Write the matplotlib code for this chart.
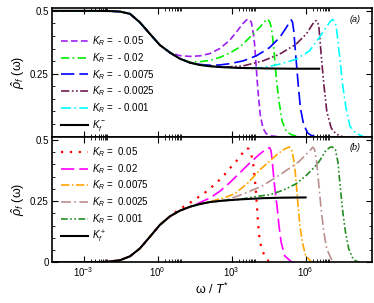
import numpy as np
import matplotlib
matplotlib.use('Agg')
import matplotlib.pyplot as plt
from matplotlib.ticker import FixedLocator, NullFormatter

plt.rcParams['font.family'] = ['Liberation Sans', 'DejaVu Sans']
plt.rcParams['mathtext.fontset'] = 'custom'
plt.rcParams['mathtext.rm'] = 'Liberation Sans'
plt.rcParams['mathtext.it'] = 'Liberation Sans:italic'

# values: log10(omega / T*) and rho_f
# (a) shared part of all curves, before they split
head_a_x = [-4.3, -2.5, -1.9, -1.52, -1.12, -0.72, -0.31, 0.09, 0.5]
head_a_y = [0.5, 0.5, 0.499, 0.497, 0.488, 0.454, 0.408, 0.364, 0.334]

kf_minus_x = [0.9, 1.31, 1.71, 2.11, 2.65, 3.33, 4.5, 5.5, 6.55]
kf_minus_y = [0.310, 0.294, 0.285, 0.280, 0.276, 0.273, 0.271, 0.270, 0.270]

neg_labels = ['- 0.05', '- 0.02', '- 0.0075', '- 0.0025', '- 0.001']
neg_x = [
    [0.9, 1.31, 1.71, 2.11, 2.52, 2.92, 3.19, 3.46, 3.62, 3.70, 3.80, 3.88, 3.93, 4.00, 4.07, 4.16, 4.27, 4.40, 4.6, 4.9],
    [0.9, 1.31, 1.71, 2.11, 2.52, 2.92, 3.33, 3.73, 4.14, 4.34, 4.47, 4.55, 4.61, 4.67, 4.72, 4.81, 4.92, 5.05, 5.22, 5.42, 5.7],
    [0.9, 1.31, 1.71, 2.11, 2.52, 2.92, 3.46, 4.00, 4.54, 4.95, 5.22, 5.35, 5.42, 5.47, 5.52, 5.57, 5.62, 5.70, 5.79, 5.92, 6.09, 6.25, 6.45],
    [0.9, 1.31, 1.71, 2.11, 2.65, 3.0, 3.46, 4.27, 4.95, 5.62, 6.03, 6.29, 6.40, 6.45, 6.50, 6.54, 6.58, 6.63, 6.74, 6.86, 7.04, 7.24, 7.5],
    [0.9, 1.31, 1.71, 2.11, 2.65, 3.33, 4.27, 4.95, 5.62, 6.16, 6.56, 6.83, 7.0, 7.10, 7.18, 7.24, 7.30, 7.37, 7.50, 7.64, 7.80, 8.05, 8.35],
]
neg_y = [
    [0.322, 0.319, 0.321, 0.330, 0.350, 0.383, 0.415, 0.450, 0.465, 0.467, 0.455, 0.41, 0.37, 0.274, 0.181, 0.088, 0.034, 0.012, 0.003, 0.0],
    [0.310, 0.296, 0.298, 0.303, 0.315, 0.332, 0.356, 0.394, 0.434, 0.458, 0.467, 0.455, 0.434, 0.39, 0.341, 0.234, 0.141, 0.061, 0.021, 0.008, 0.0],
    [0.310, 0.294, 0.287, 0.284, 0.285, 0.290, 0.301, 0.321, 0.354, 0.394, 0.434, 0.455, 0.464, 0.455, 0.421, 0.36, 0.301, 0.208, 0.114, 0.048, 0.014, 0.004, 0.0],
    [0.310, 0.294, 0.285, 0.280, 0.277, 0.278, 0.281, 0.301, 0.328, 0.368, 0.408, 0.448, 0.460, 0.461, 0.452, 0.434, 0.39, 0.328, 0.208, 0.101, 0.034, 0.010, 0.0],
    [0.310, 0.294, 0.285, 0.280, 0.276, 0.273, 0.274, 0.288, 0.308, 0.341, 0.394, 0.434, 0.458, 0.466, 0.458, 0.441, 0.39, 0.328, 0.208, 0.114, 0.041, 0.013, 0.0],
]

# (b)
head_b_x = [-4.3, -2.5, -2.0, -1.52, -1.12, -0.72, -0.31, 0.09, 0.5]
head_b_y = [0.0, 0.001, 0.003, 0.009, 0.025, 0.057, 0.105, 0.153, 0.188]

kf_plus_x = [0.9, 1.31, 1.71, 2.11, 2.65, 3.33, 4.27, 5.0, 6.0]
kf_plus_y = [0.211, 0.227, 0.238, 0.246, 0.252, 0.257, 0.262, 0.264, 0.265]

pos_labels = ['0.05', '0.02', '0.0075', '0.0025', '0.001']
pos_x = [
    [0.83, 1.04, 1.27, 1.48, 1.68, 1.91, 2.11, 2.36, 2.72, 2.92, 3.19, 3.40, 3.55, 3.62, 3.70, 3.80, 3.88, 3.97, 4.03, 4.08, 4.13, 4.20, 4.34, 4.51, 4.7],
    [0.9, 1.31, 1.71, 2.11, 2.52, 2.92, 3.33, 3.73, 4.14, 4.40, 4.54, 4.60, 4.65, 4.74, 4.84, 4.92, 5.01, 5.15, 5.42, 5.6],
    [0.9, 1.31, 1.71, 2.11, 2.65, 3.13, 3.66, 4.16, 4.81, 5.10, 5.33, 5.42, 5.50, 5.58, 5.64, 5.70, 5.77, 5.87, 6.0, 6.23, 6.4],
    [0.9, 1.31, 1.71, 2.11, 2.65, 3.0, 3.49, 4.23, 4.97, 5.72, 6.19, 6.29, 6.36, 6.45, 6.54, 6.63, 6.74, 6.86, 7.04, 7.24],
    [0.9, 1.31, 1.71, 2.11, 2.65, 3.33, 4.0, 4.54, 5.08, 5.62, 6.03, 6.36, 6.54, 6.83, 7.0, 7.08, 7.21, 7.31, 7.40, 7.51, 7.62, 7.75, 7.94, 8.18],
]
pos_y = [
    [0.213, 0.226, 0.240, 0.255, 0.268, 0.284, 0.301, 0.321, 0.359, 0.383, 0.413, 0.440, 0.460, 0.467, 0.462, 0.44, 0.40, 0.31, 0.225, 0.15, 0.10, 0.062, 0.025, 0.004, 0.0],
    [0.211, 0.226, 0.244, 0.262, 0.290, 0.325, 0.365, 0.405, 0.442, 0.462, 0.468, 0.455, 0.41, 0.314, 0.232, 0.150, 0.082, 0.027, 0.003, 0.0],
    [0.211, 0.227, 0.238, 0.248, 0.262, 0.280, 0.324, 0.379, 0.437, 0.460, 0.471, 0.462, 0.43, 0.37, 0.30, 0.225, 0.15, 0.082, 0.027, 0.003, 0.0],
    [0.211, 0.227, 0.238, 0.246, 0.252, 0.262, 0.280, 0.311, 0.358, 0.41, 0.458, 0.470, 0.462, 0.41, 0.314, 0.219, 0.123, 0.055, 0.014, 0.0],
    [0.211, 0.227, 0.238, 0.246, 0.252, 0.257, 0.269, 0.276, 0.294, 0.321, 0.355, 0.389, 0.41, 0.458, 0.470, 0.471, 0.46, 0.41, 0.314, 0.205, 0.123, 0.055, 0.011, 0.0],
]

neg_colors = ['#a020f0', '#00ee00', '#0000ff', '#6e1a4e', '#00ffff']
neg_styles = [(0, (4, 2)), (0, (5, 2, 1, 2)), (0, (8, 3)), (0, (5, 1.5, 1, 1.5, 1, 1.5)), (0, (6, 2, 1, 2))]
pos_colors = ['#ff0000', '#ff00ff', '#ffa500', '#bc8f8f', '#228b22']
pos_styles = [(0, (1, 3)), (0, (8, 3)), (0, (5, 1.5, 1, 1.5)), (0, (6, 2, 1, 2)), (0, (4, 1.5, 1, 1.5, 1, 1.5))]
pos_widths = [1.6, 1.2, 1.2, 1.2, 1.2]

fig = plt.figure(figsize=(3.74, 3.03), dpi=100)
ax1 = fig.add_axes([0.138, 0.549, 0.857, 0.426])
ax2 = fig.add_axes([0.138, 0.134, 0.857, 0.415])

for i in range(5):
    xs = np.power(10.0, head_a_x + neg_x[i])
    ax1.plot(xs, head_a_y + neg_y[i], color=neg_colors[i], ls=neg_styles[i], lw=1.2,
             label=r'$K_R$ =  ' + neg_labels[i])
ax1.plot(np.power(10.0, head_a_x + kf_minus_x), head_a_y + kf_minus_y, color='black', lw=1.5,
         label=r'$K_f^-$')

for i in range(5):
    xs = np.power(10.0, head_b_x + pos_x[i])
    ax2.plot(xs, head_b_y + pos_y[i], color=pos_colors[i], ls=pos_styles[i], lw=pos_widths[i],
             label=r'$K_R$ =  ' + pos_labels[i])
ax2.plot(np.power(10.0, head_b_x + kf_plus_x), head_b_y + kf_plus_y, color='black', lw=1.5,
         label=r'$K_f^+$')

majors = [1e-3, 1e0, 1e3, 1e6]
minors = [m * k for k in majors for m in range(2, 10)]
for ax in (ax1, ax2):
    ax.set_xscale('log')
    ax.set_xlim(5e-5, 5e8)
    ax.set_ylim(0, 0.513)
    ax.xaxis.set_major_locator(FixedLocator(majors))
    ax.xaxis.set_minor_locator(FixedLocator(minors))
    ax.xaxis.set_minor_formatter(NullFormatter())
    ax.yaxis.set_major_locator(FixedLocator([0, 0.25, 0.5]))
    ax.yaxis.set_minor_locator(FixedLocator([0.05, 0.1, 0.15, 0.2, 0.3, 0.35, 0.4, 0.45]))
    ax.tick_params(which='both', direction='in', top=True, right=True, labelsize=7, pad=2)
    ax.tick_params(which='major', length=4, width=0.8)
    ax.tick_params(which='minor', length=2.5, width=0.6)
    ax.set_ylabel(r'$\hat{\rho}_f$ (ω)', fontsize=9, labelpad=2)
    for s in ax.spines.values():
        s.set_linewidth(1.2)

ax1.legend(loc='center left', bbox_to_anchor=(0.0, 0.41), frameon=False, fontsize=7,
           handlelength=2.7, handletextpad=0.5, labelspacing=0.3, borderaxespad=0.6)
ax2.legend(loc='center left', bbox_to_anchor=(0.0, 0.535), frameon=False, fontsize=7,
           handlelength=2.7, handletextpad=0.5, labelspacing=0.3, borderaxespad=0.6)

ax1.set_yticklabels(['', '0.25', '0.5'])
ax1.tick_params(axis='x', labelbottom=False)
ax2.set_yticklabels(['0', '0.25', '0.5'])
ax2.set_xlabel(r'ω / $T^{*}$', fontsize=9, labelpad=2)

ax1.text(0.965, 0.89, '(a)', transform=ax1.transAxes, fontsize=6.5, style='italic', ha='right')
ax2.text(0.965, 0.89, '(b)', transform=ax2.transAxes, fontsize=6.5, style='italic', ha='right')

fig.savefig('out.png', dpi=100)
